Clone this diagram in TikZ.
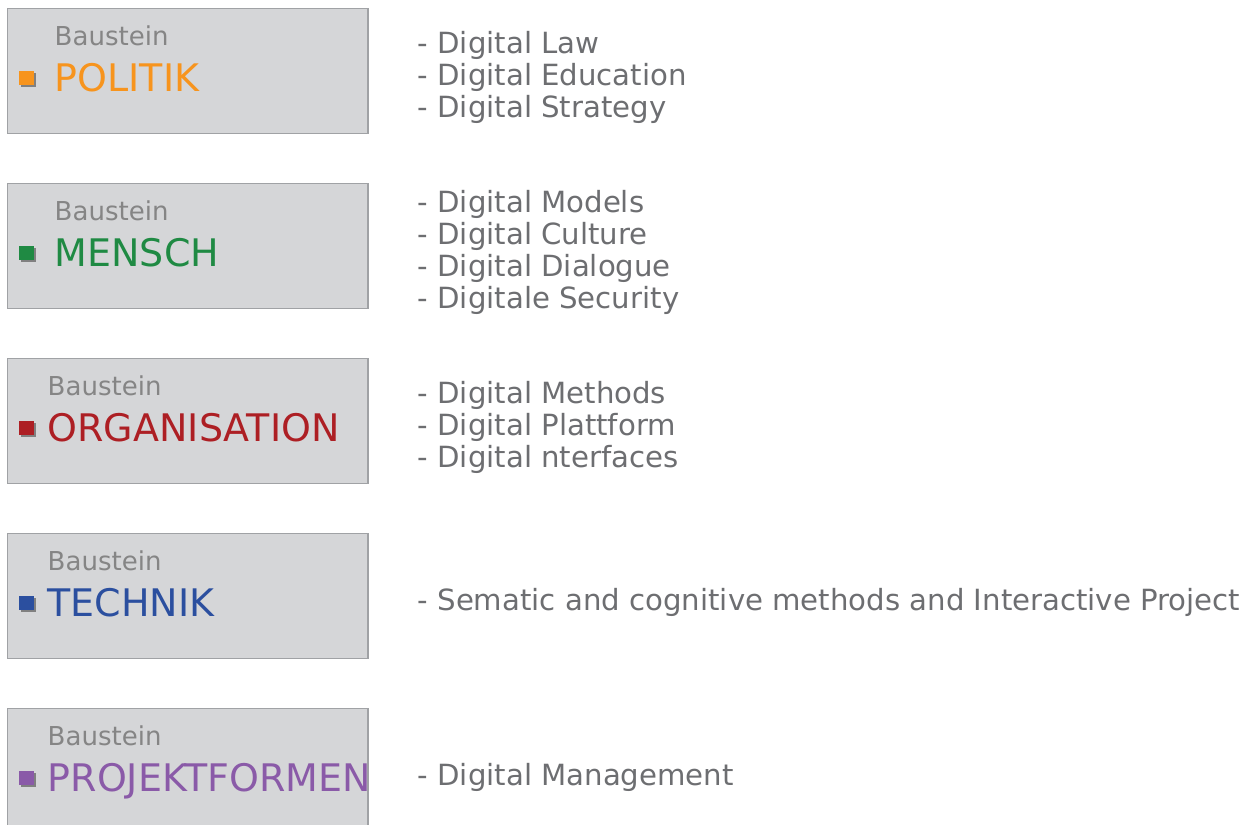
\documentclass[tikz,border=0pt]{standalone}
\usepackage{fontspec}
\setmainfont{DejaVu Sans}
\usepackage{tikz}
\usetikzlibrary{shadows}
\definecolor{kasten}{RGB}{213,214,216}
\definecolor{rahmen}{RGB}{160,162,165}
\definecolor{schatten}{RGB}{128,128,128}
\definecolor{kicker}{RGB}{133,133,133}
\definecolor{listengrau}{RGB}{109,110,113}
\definecolor{politik}{RGB}{247,148,29}
\definecolor{mensch}{RGB}{31,138,67}
\definecolor{organisation}{RGB}{173,31,36}
\definecolor{technik}{RGB}{43,79,159}
\definecolor{projekt}{RGB}{138,90,168}
\tikzset{
	bausteinbox/.style={draw=rahmen, fill=kasten, line width=0.5pt, minimum width=3.605cm, minimum height=1.25cm, inner sep=0pt},
	punkt/.style={minimum size=0.14cm, inner sep=0pt, drop shadow={shadow xshift=0.02cm, shadow yshift=-0.02cm, fill=schatten, opacity=1}},
	kickertext/.style={anchor=base west, inner sep=0pt, text=kicker, font=\fontsize{7.4}{8.5}\selectfont},
	titeltext/.style={anchor=base west, inner sep=0pt, font=\fontsize{10.8}{13}\selectfont},
	listentext/.style={anchor=west, inner sep=0pt, align=left, text=listengrau, font=\fontsize{8.3}{9.1}\selectfont}
}
\newcommand{\baustein}[5]{% {name}{top}{text x}{colour}{label}
	\node[bausteinbox] (#1) at (187.75,#2+62.5) {}; % box
	\node[punkt, fill=#4] (#1-punkt) at (26.5,#2+70) {}; % bullet
	\node[kickertext] (#1-kicker) at (#3,#2+37) {Baustein};
	\node[titeltext, text=#4] (#1-titel) at (#3,#2+83) {#5}
}
\newcommand{\liste}[3]{% {name}{top}{lines}
	\node[listentext] (#1-liste) at (417,#2+69) {#3}
}

\begin{document}
\begin{tikzpicture}[x=0.01cm, y=-0.01cm]
	\useasboundingbox (0,0) rectangle (1256,825);

	\baustein{politik}{8.5}{54}{politik}{POLITIK};
	\baustein{mensch}{183.5}{54}{mensch}{MENSCH};
	\baustein{organisation}{358.5}{47}{organisation}{ORGANISATION};
	\baustein{technik}{533.5}{47}{technik}{TECHNIK};
	\baustein{projekt}{708.5}{47}{projekt}{PROJEKTFORMEN};

	\liste{politik}{8.5}{- Digital Law\\- Digital Education\\- Digital Strategy};
	\liste{mensch}{183.5}{- Digital Models\\- Digital Culture\\- Digital Dialogue\\- Digitale Security};
	\liste{organisation}{358.5}{- Digital Methods\\- Digital Plattform\\- Digital nterfaces};
	\liste{technik}{533.5}{- Sematic and cognitive methods and Interactive Project};
	\liste{projekt}{708.5}{- Digital Management};
\end{tikzpicture}
\end{document}
